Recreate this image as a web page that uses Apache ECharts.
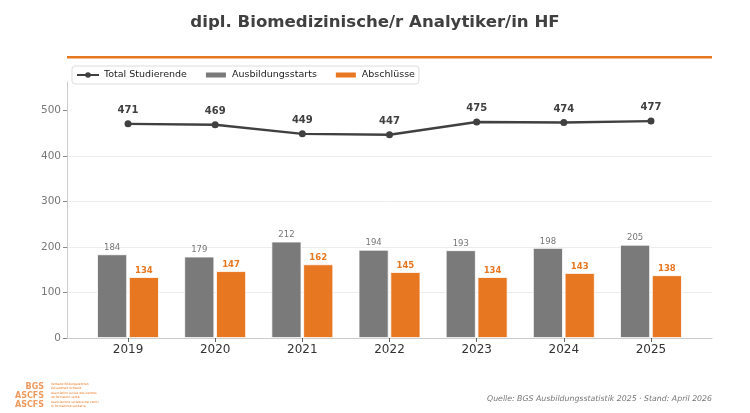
<!DOCTYPE html>
<html>
<head>
<meta charset="utf-8">
<script src="https://cdn.jsdelivr.net/npm/echarts@6/dist/echarts.min.js"></script>
<style>
html,body{margin:0;padding:0;background:#fff;}
#chart{width:750px;height:413px;}
</style>
</head>
<body>
<div id="chart"></div>
<script>
var years = ['2019','2020','2021','2022','2023','2024','2025'];
var totalStudierende = [471, 469, 449, 447, 475, 474, 477];
var ausbildungsstarts = [184, 179, 212, 194, 193, 198, 205];
var abschluesse = [134, 147, 162, 145, 134, 143, 138];
var yTicks = [0, 100, 200, 300, 400, 500];

var ORANGE = '#E87722';
var GRAY = '#7a7a7a';
var DARK = '#404040';

function pairs(arr){ return arr.map(function(v,i){ return [i, v]; }); }
var idx = years.map(function(_, i){ return i; });

var chart = echarts.init(document.getElementById('chart'));
chart.setOption({
  animation: false,
  textStyle: { fontFamily: 'DejaVu Sans' },
  title: [{
    text: 'dipl. Biomedizinische/r Analytiker/in HF',
    left: 'center', top: 9,
    textStyle: { fontSize: 16.6, fontWeight: 'bold', color: DARK, fontFamily: 'DejaVu Sans' }
  }, {
    text: 'Quelle: BGS Ausbildungsstatistik 2025 · Stand: April 2026',
    right: 33, top: 390,
    textStyle: { fontSize: 7.8, fontWeight: 'normal', fontStyle: 'italic', color: '#777', fontFamily: 'DejaVu Sans' }
  }],
  legend: {
    left: 72, top: 66,
    padding: [4, 4],
    itemGap: 17,
    itemWidth: 22, itemHeight: 7,
    borderColor: '#ddd', borderWidth: 1, borderRadius: 3,
    textStyle: { fontSize: 9.5, color: '#222' },
    data: [
      { name: 'Total Studierende' },
      { name: 'Ausbildungsstarts', icon: 'rect' },
      { name: 'Abschlüsse', icon: 'rect' }
    ]
  },
  grid: { left: 67, right: 38, top: 82, bottom: 75 },
  xAxis: {
    type: 'value', min: -0.7, max: 6.7,
    splitLine: { show: false },
    axisLine: { show: true, onZero: false, lineStyle: { color: '#ccc', width: 1 } },
    axisTick: { show: true, customValues: idx, length: 4, lineStyle: { color: '#666' } },
    axisLabel: {
      customValues: idx, fontSize: 12, color: '#333', margin: 6,
      formatter: function(v){ return years[Math.round(v)]; }
    }
  },
  yAxis: {
    type: 'value', min: 0, max: 563, interval: 100,
    axisLine: { show: true, onZero: false, lineStyle: { color: '#ccc', width: 1 } },
    axisTick: { show: true, customValues: yTicks, length: 4, lineStyle: { color: '#888' } },
    axisLabel: { customValues: yTicks, fontSize: 10.5, color: '#777', margin: 6 },
    splitLine: { show: true, showMinLine: false, showMaxLine: false, lineStyle: { color: '#ececec', width: 1 } }
  },
  series: [{
    name: 'Ausbildungsstarts', type: 'bar',
    data: pairs(ausbildungsstarts),
    barWidth: 30, barGap: '6%',
    itemStyle: { color: GRAY, borderColor: '#fff', borderWidth: 0.8 },
    label: { show: true, position: 'top', distance: 2, fontSize: 8.5, color: '#777' },
    z: 2
  }, {
    name: 'Abschlüsse', type: 'bar',
    data: pairs(abschluesse),
    barWidth: 30, barGap: '6%',
    itemStyle: { color: ORANGE, borderColor: '#fff', borderWidth: 0.8 },
    label: { show: true, position: 'top', distance: 2, fontSize: 8.5, fontWeight: 'bold', color: ORANGE },
    z: 2
  }, {
    name: 'Total Studierende', type: 'line',
    data: pairs(totalStudierende),
    symbol: 'circle', symbolSize: 7,
    lineStyle: { color: DARK, width: 2.4 },
    itemStyle: { color: DARK },
    label: { show: true, position: 'top', distance: 5, fontSize: 10, fontWeight: 'bold', color: DARK },
    z: 5
  }],
  graphic: [
    { type: 'rect', shape: { x: 67, y: 56, width: 645, height: 2.5 }, style: { fill: ORANGE } },
    { type: 'text', style: { x: 44, y: 387, text: 'BGS', align: 'right', verticalAlign: 'middle', font: 'bold 8px DejaVu Sans', fill: '#ee9a5e' } },
    { type: 'text', style: { x: 44, y: 396, text: 'ASCFS', align: 'right', verticalAlign: 'middle', font: 'bold 8px DejaVu Sans', fill: '#ee9a5e' } },
    { type: 'text', style: { x: 44, y: 405, text: 'ASCFS', align: 'right', verticalAlign: 'middle', font: 'bold 8px DejaVu Sans', fill: '#ee9a5e' } },
    { type: 'text', style: { x: 51, y: 386, text: 'Verband Bildungszentren\nGesundheit Schweiz', verticalAlign: 'middle', font: '3px DejaVu Sans', lineHeight: 3.5, fill: ORANGE } },
    { type: 'text', style: { x: 51, y: 395, text: 'Association suisse des centres\nde formation santé', verticalAlign: 'middle', font: '3px DejaVu Sans', lineHeight: 3.5, fill: ORANGE } },
    { type: 'text', style: { x: 51, y: 404, text: 'Associazione svizzera dei centri\ndi formazione sanitaria', verticalAlign: 'middle', font: '3px DejaVu Sans', lineHeight: 3.5, fill: ORANGE } }
  ]
});
</script>
</body>
</html>
